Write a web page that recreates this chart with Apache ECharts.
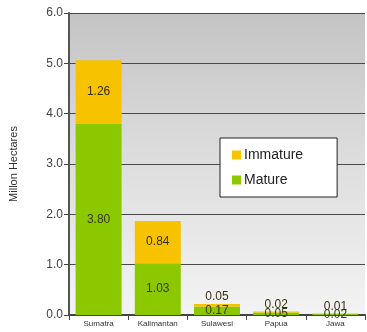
<!DOCTYPE html>
<html>
<head>
<meta charset="utf-8">
<script src="https://cdn.jsdelivr.net/npm/echarts@6/dist/echarts.min.js"></script>
<style>
  html, body { margin: 0; padding: 0; background: #fff; }
  #chart { width: 367px; height: 332px; }
</style>
</head>
<body>
<div id="chart"></div>
<script>
// islands
const regions = ['Sumatra', 'Kalimantan', 'Sulawesi', 'Papua', 'Jawa'];
// million hectares
const mature = [3.80, 1.03, 0.17, 0.05, 0.02];
const immature = [1.26, 0.84, 0.05, 0.02, 0.01];
const yTicks = [0, 1, 2, 3, 4, 5, 6];

const chart = echarts.init(document.getElementById('chart'));

// small stacks: put the top label above the bar like the original
function immatureData() {
  return immature.map(function (v, i) {
    if (mature[i] + v < 0.5) {
      return { value: v, label: { position: 'top', distance: 1 } };
    }
    return v;
  });
}

const option = {
  animation: false,
  textStyle: { fontFamily: 'Liberation Sans, Arial, sans-serif' },
  color: ['#8cc800', '#f7c200'],
  grid: {
    left: 68, right: 2, top: 13, bottom: 17,
    show: true,
    borderWidth: 0,
    backgroundColor: {
      type: 'linear', x: 0, y: 0, x2: 0, y2: 1,
      colorStops: [
        { offset: 0, color: '#c4c4c4' },
        { offset: 0.5, color: '#dedede' },
        { offset: 1, color: '#f3f3f3' }
      ]
    }
  },
  legend: {
    orient: 'vertical',
    left: 220, top: 138,
    padding: [10, 34, 10, 12],
    itemGap: 11,
    backgroundColor: '#ffffff',
    borderColor: '#222',
    borderWidth: 1,
    borderRadius: 0,
    icon: 'rect',
    itemWidth: 9, itemHeight: 9,
    textStyle: { fontSize: 14, color: '#222', padding: [0, 0, 0, -2] },
    data: ['Immature', 'Mature']
  },
  xAxis: {
    type: 'category',
    data: regions,
    axisLine: { lineStyle: { color: '#444', width: 2 } },
    axisTick: { show: true, lineStyle: { color: '#444' } },
    axisLabel: { interval: 0, fontSize: 8, color: '#333', margin: 5 }
  },
  yAxis: {
    type: 'value',
    min: 0, max: 6, interval: 1,
    name: 'Millon Hectares',
    nameLocation: 'middle',
    nameGap: 50,
    nameTextStyle: { fontSize: 11, color: '#333' },
    axisLine: { show: true, lineStyle: { color: '#555', width: 2 } },
    axisTick: { show: true, length: 5, lineStyle: { color: '#444' } },
    axisLabel: {
      fontSize: 12, color: '#444', margin: 6,
      formatter: function (v) { return yTicks.indexOf(v) >= 0 ? v.toFixed(1) : ''; }
    },
    splitLine: { show: true, lineStyle: { color: '#4a4a4a', width: 1 } }
  },
  series: [
    {
      name: 'Mature',
      type: 'bar',
      stack: 'area',
      barWidth: 46,
      data: mature,
      itemStyle: { color: '#8cc800' },
      label: {
        show: true, position: 'inside', fontSize: 12, color: '#3a3a10',
        formatter: function (p) { return p.value.toFixed(2); }
      }
    },
    {
      name: 'Immature',
      type: 'bar',
      stack: 'area',
      barWidth: 46,
      data: immatureData(),
      itemStyle: { color: '#f7c200' },
      label: {
        show: true, position: 'inside', fontSize: 12, color: '#3a3010',
        formatter: function (p) { return p.value.toFixed(2); }
      }
    }
  ]
};

chart.setOption(option);
</script>
</body>
</html>
